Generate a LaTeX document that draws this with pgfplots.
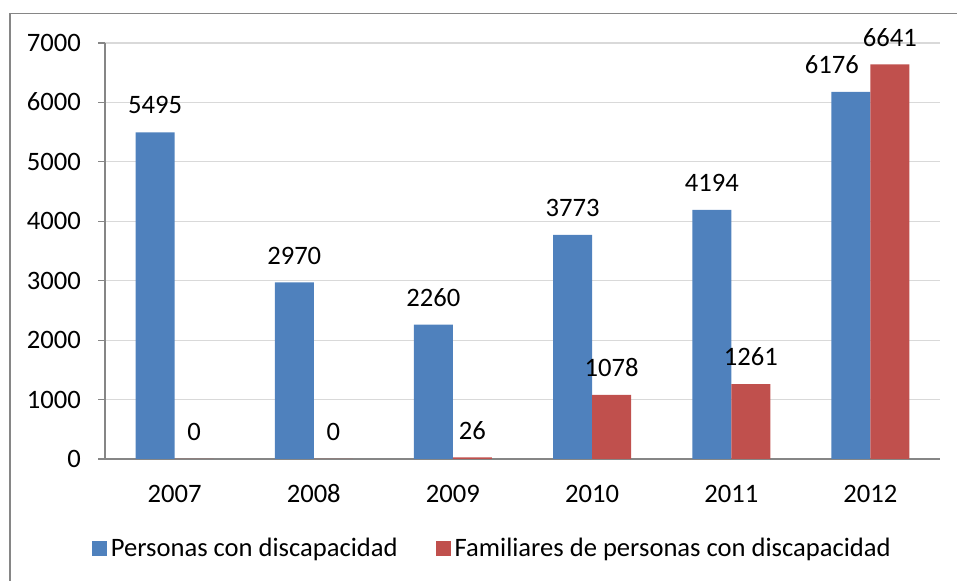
\documentclass[border=0pt]{standalone}
\usepackage{pgfplots}
\pgfplotsset{compat=1.18}
\usepackage{fontspec}
\setmainfont{Carlito}
\definecolor{cblue}{HTML}{4F81BD}
\definecolor{cred}{HTML}{C0504D}
\definecolor{axisgray}{HTML}{868686}
\definecolor{gridgray}{HTML}{D9D9D9}
\newcommand{\cf}{\fontsize{13.3}{16}\selectfont}
\begin{document}
\cf
\begin{tikzpicture}[x=1pt,y=1pt]
\useasboundingbox (0,0) rectangle (478.5,290.5);
\draw[color=axisgray, line width=0.7pt] (5,-2) -- (5,283.8) -- (482,283.8);
\begin{axis}[
  at={(52.5pt,61pt)}, anchor=south west,
  scale only axis, width=417.5pt, height=208pt,
  ymin=0, ymax=7000, ytick={0,1000,...,7000},
  xmin=-0.5, xmax=5.5,
  xtick={0,...,5}, xticklabels={2007,2008,2009,2010,2011,2012},
  major x tick style={draw=none},
  extra x ticks={-0.5,0.5,1.5,2.5,3.5,4.5,5.5},
  extra x tick labels={},
  extra x tick style={grid=none, major tick length=4pt, tick style={draw=axisgray, line width=0.6pt}},
  axis lines=left, axis line style={-, draw=axisgray, line width=0.6pt},
  tick align=outside, major tick length=3.5pt,
  ytick style={draw=axisgray, line width=0.6pt},
  ymajorgrids, grid style={draw=gridgray, line width=0.6pt},
  /pgf/number format/assume math mode=true,
  /pgf/number format/1000 sep={},
  ticklabel style={font=\cf, text=black, text height=8.5pt, text depth=0pt},
  yticklabel style={xshift=-4pt},
  xticklabel style={yshift=-5pt},
  ybar=0pt, bar width=19.5pt,
  nodes near coords,
  every node near coord/.append style={anchor=center, yshift=13.5pt, font=\cf, text=black},
  legend columns=2,
  legend style={at={(0.465,-0.216)}, anchor=center, draw=none, fill=none,
    font=\cf,
    /tikz/every even column/.append style={column sep=17pt}},
  legend image code/.code={\fill[#1] (0pt,-3.75pt) rectangle (7.5pt,3.75pt);},
]
\addplot[fill=cblue, draw=none, coordinate style/.condition={x==5}{xshift=-9.5pt}] coordinates {(0,5495) (1,2970) (2,2260) (3,3773) (4,4194) (5,6176)};
\addplot[fill=cred, draw=none] coordinates {(0,0) (1,0) (2,26) (3,1078) (4,1261) (5,6641)};
\legend{Personas con discapacidad, Familiares de personas con discapacidad}
\end{axis}
\end{tikzpicture}
\end{document}
